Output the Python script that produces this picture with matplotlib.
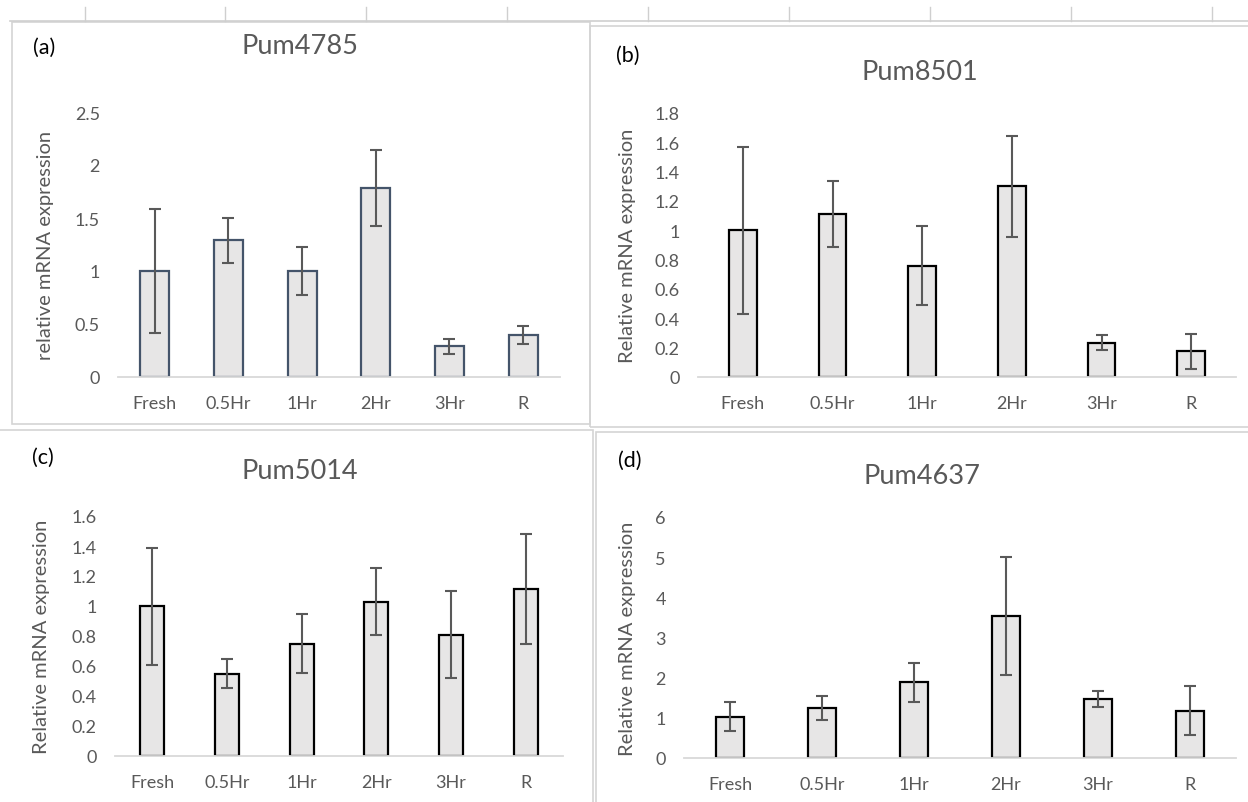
import matplotlib
matplotlib.use('Agg')
import matplotlib.pyplot as plt
from matplotlib.patches import Rectangle
from matplotlib.lines import Line2D

plt.rcParams['font.family'] = ['Lato', 'DejaVu Sans']

categories = ['Fresh', '0.5Hr', '1Hr', '2Hr', '3Hr', 'R']

pum4785 = [1.0, 1.29, 1.0, 1.78, 0.29, 0.395]
pum4785_err = [0.585, 0.21, 0.225, 0.36, 0.07, 0.085]

pum8501 = [1.0, 1.11, 0.76, 1.30, 0.233, 0.174]
pum8501_err = [0.57, 0.223, 0.27, 0.345, 0.05, 0.117]

pum5014 = [1.0, 0.55, 0.75, 1.03, 0.81, 1.115]
pum5014_err = [0.39, 0.097, 0.197, 0.221, 0.293, 0.367]

pum4637 = [1.03, 1.25, 1.89, 3.54, 1.47, 1.18]
pum4637_err = [0.37, 0.30, 0.485, 1.47, 0.205, 0.615]

W, H = 1248, 803
fig = plt.figure(figsize=(W / 100, H / 100), dpi=100)
fig.patch.set_facecolor('white')

grey = '#595959'


def px_axes(left, top, right, bottom):
    return fig.add_axes([left / W, 1 - bottom / H, (right - left) / W, (bottom - top) / H])


def fig_box(left, top, right, bottom):
    fig.add_artist(Rectangle((left / W, 1 - bottom / H), (right - left) / W, (bottom - top) / H,
                             transform=fig.transFigure, fill=False, edgecolor='#d4d4d4', lw=1.2))


# spreadsheet grid strip on top
for gx in [85, 225, 366, 507, 648, 789, 930, 1071, 1212]:
    fig.add_artist(Line2D([gx / W, gx / W], [1 - 8 / H, 1 - 22 / H], transform=fig.transFigure,
                          color='#cfcfcf', lw=1))
fig.add_artist(Line2D([10 / W, 1], [1 - 22 / H, 1 - 22 / H], transform=fig.transFigure, color='#cfcfcf', lw=1.2))

# chart borders
fig_box(12, 23, 590, 425)
fig_box(590, 27, 1260, 428)
fig_box(-5, 431, 593, 810)
fig_box(596, 433, 1260, 810)


def panel(box, vals, errs, ymax, step, edge, ylabel, title, tag, title_xy, tag_xy, width, ylab_x):
    ax = px_axes(*box)
    x = list(range(len(categories)))
    ax.bar(x, vals, width=width, color='#e7e6e6', edgecolor=edge, linewidth=1.6, zorder=2)
    ax.errorbar(x, vals, yerr=errs, fmt='none', ecolor=grey, elinewidth=1.5,
                capsize=4.6, capthick=1.5, zorder=3)
    ax.set_xlim(-0.5, len(categories) - 0.5)
    ax.set_ylim(0, ymax)
    ticks = [round(i * step, 2) for i in range(int(round(ymax / step)) + 1)]
    ax.set_yticks(ticks)
    ax.set_yticklabels(['{:g}'.format(t) for t in ticks])
    ax.set_xticks(x)
    ax.set_xticklabels(categories)
    for s in ['top', 'right', 'left']:
        ax.spines[s].set_visible(False)
    ax.spines['bottom'].set_color('#d9d9d9')
    ax.spines['bottom'].set_linewidth(1.3)
    ax.tick_params(axis='both', length=0, labelsize=13, labelcolor=grey)
    ax.tick_params(axis='y', pad=13)
    ax.tick_params(axis='x', pad=13)
    ax.set_ylabel(ylabel, fontsize=14.5, color=grey)
    ax.yaxis.set_label_coords((ylab_x - box[0]) / (box[2] - box[0]), 0.5)
    ax.set_facecolor('none')
    fig.text(title_xy[0] / W, 1 - title_xy[1] / H, title, fontsize=19.5, color=grey,
             ha='center', va='center')
    fig.text(tag_xy[0] / W, 1 - tag_xy[1] / H, tag, fontsize=15.5, color='black',
             ha='center', va='center')
    return ax


panel((118, 113, 560, 378), pum4785, pum4785_err, 2.5, 0.5, '#44546a',
      'relative mRNA expression', 'Pum4785', '(a)', (300, 47), (44, 48), 0.39, 54)
panel((698, 114, 1236, 378), pum8501, pum8501_err, 1.8, 0.2, 'black',
      'Relative mRNA expression', 'Pum8501', '(b)', (920, 72), (628, 56), 0.31, 636)
panel((115, 517, 563, 757), pum5014, pum5014_err, 1.6, 0.2, 'black',
      'Relative mRNA expression', 'Pum5014', '(c)', (300, 472), (43, 458), 0.32, 50)
panel((684, 518, 1236, 759), pum4637, pum4637_err, 6, 1, 'black',
      'Relative mRNA expression', 'Pum4637', '(d)', (922, 477), (630, 461), 0.30, 636)

fig.savefig('out.png', dpi=100)
